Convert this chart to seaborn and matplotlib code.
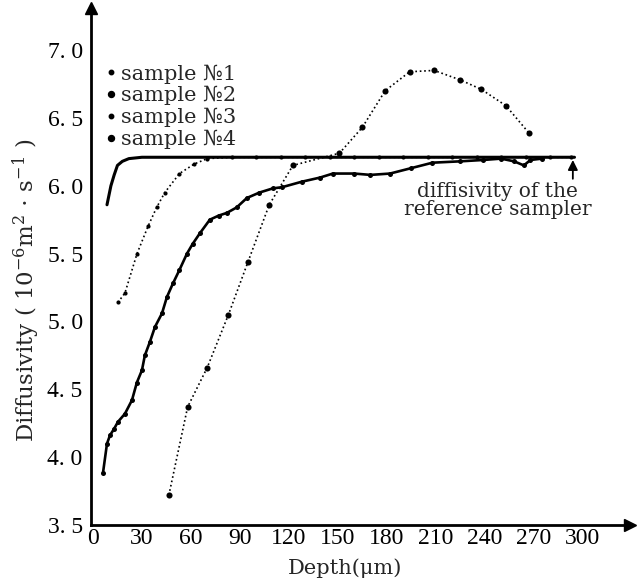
import matplotlib
matplotlib.use("Agg")
import matplotlib.pyplot as plt
import seaborn as sns
from matplotlib.lines import Line2D

# ---- data ----
s1_x = [8.6, 11, 13, 15, 18, 22, 30, 45, 60, 80, 100, 120, 140, 160, 180, 200, 220, 240, 260, 280, 295]
s1_y = [5.86, 6.00, 6.08, 6.15, 6.18, 6.20, 6.21, 6.21, 6.21, 6.21, 6.21, 6.21, 6.21, 6.21, 6.21, 6.21, 6.21, 6.21, 6.21, 6.21, 6.21]

s2_x = [6.1, 8.6, 10.4, 13, 15.3, 19.6, 23.9, 26.9, 30, 31.8, 34.9, 38, 42.3, 45.3, 49, 53, 57.6, 61,
        65.5, 71.6, 77, 82, 88, 94.3, 102, 110, 116, 128, 139, 147, 160, 170, 182, 195, 208, 225, 239,
        250, 258, 264, 268, 275]
s2_y = [3.88, 4.10, 4.16, 4.21, 4.26, 4.32, 4.42, 4.55, 4.64, 4.75, 4.85, 4.96, 5.06, 5.18, 5.28, 5.38,
        5.50, 5.57, 5.65, 5.75, 5.78, 5.80, 5.84, 5.91, 5.95, 5.98, 5.99, 6.03, 6.06, 6.09, 6.09, 6.08,
        6.09, 6.13, 6.17, 6.18, 6.19, 6.20, 6.18, 6.15, 6.19, 6.20]

s3_x = [15.3, 19.6, 27, 33.7, 39, 44, 53, 62, 70, 85, 100, 115, 130, 145, 160, 175, 190, 205, 220, 235, 250, 265, 280, 293]
s3_y = [5.14, 5.21, 5.50, 5.70, 5.84, 5.95, 6.09, 6.16, 6.20, 6.21, 6.21, 6.21, 6.21, 6.21, 6.21, 6.21, 6.21,
        6.21, 6.21, 6.21, 6.21, 6.21, 6.21, 6.21]

s4_x = [46.5, 58, 70, 83, 95, 108, 122.5, 151, 165, 179, 194, 209, 225, 238, 253, 267]
s4_y = [3.72, 4.37, 4.66, 5.05, 5.44, 5.86, 6.15, 6.24, 6.43, 6.70, 6.84, 6.85, 6.78, 6.71, 6.59, 6.39]

x_ticks = [0, 30, 60, 90, 120, 150, 180, 210, 240, 270, 300]
y_ticks = [3.5, 4.0, 4.5, 5.0, 5.5, 6.0, 6.5, 7.0]
y_tick_labels = ["3. 5", "4. 0", "4. 5", "5. 0", "5. 5", "6. 0", "6. 5", "7. 0"]
legend_labels = ["sample №1", "sample №2", "sample №3", "sample №4"]

# ---- style ----
sns.set_style("white")
plt.rcParams["font.family"] = ["Liberation Serif", "DejaVu Serif"]
plt.rcParams["mathtext.fontset"] = "custom"
plt.rcParams["mathtext.rm"] = "DejaVu Serif"
plt.rcParams["mathtext.it"] = "DejaVu Serif:italic"

wide = ["DejaVu Serif", "Liberation Serif"]

W, H = 638, 578
ax_l, ax_b, ax_w, ax_h = 91, 53, 539, 517

fig = plt.figure(figsize=(W / 100, H / 100), dpi=100)
ax = fig.add_axes([ax_l / W, ax_b / H, ax_w / W, ax_h / H])

sns.lineplot(x=s1_x, y=s1_y, ax=ax, color="black", linewidth=2.2, sort=False, estimator=None)
sns.lineplot(x=s3_x, y=s3_y, ax=ax, color="black", linewidth=1.2, linestyle=":", sort=False,
             estimator=None, marker="o", markersize=3.0, markeredgewidth=0)
sns.lineplot(x=s2_x, y=s2_y, ax=ax, color="black", linewidth=1.9, sort=False, estimator=None,
             marker="o", markersize=3.6, markeredgewidth=0)
sns.lineplot(x=s4_x, y=s4_y, ax=ax, color="black", linewidth=1.2, linestyle=":", sort=False,
             estimator=None, marker="o", markersize=4.4, markeredgewidth=0)

ax.set_xlim(-1.2, 329)
ax.set_ylim(3.5, 7.31)

for side in ["top", "right"]:
    ax.spines[side].set_visible(False)
for side in ["left", "bottom"]:
    ax.spines[side].set_color("black")
    ax.spines[side].set_linewidth(2.0)

# axis arrows
ax.plot(1, 0, marker=">", color="black", markersize=9, transform=ax.transAxes, clip_on=False)
ax.plot(0, 1, marker="^", color="black", markersize=9, transform=ax.transAxes, clip_on=False)

ax.set_xticks(x_ticks)
ax.set_xticklabels([str(v) for v in x_ticks])
ax.set_yticks(y_ticks)
ax.set_yticklabels(y_tick_labels)
ax.tick_params(axis="x", direction="in", length=6, width=1.5, labelsize=17, pad=2, colors="black")
ax.tick_params(axis="y", direction="out", length=5, width=1.5, labelsize=17, pad=1, colors="black")

ax.set_xlabel("Depth(μm)", fontsize=15, family=wide)
ax.xaxis.set_label_coords((345 - ax_l) / ax_w, -33 / ax_h)
ax.set_ylabel(r"Diffusivity ( 10$^{-6}$m$^{2}$ $\cdot$ s$^{-1}$ )", fontsize=16.5, family=wide)
ax.yaxis.set_label_coords(-(ax_l - 42) / ax_w, (525 - 290) / ax_h)

# legend
handles = [
    Line2D([], [], linestyle="none", marker="o", color="black", markersize=3.2),
    Line2D([], [], linestyle="none", marker="o", color="black", markersize=4.3),
    Line2D([], [], linestyle="none", marker="o", color="black", markersize=3.2),
    Line2D([], [], linestyle="none", marker="o", color="black", markersize=4.3),
]
ax.legend(handles, legend_labels, loc="upper left", bbox_to_anchor=(0.013, (525 - 56) / ax_h),
          frameon=False, prop={"family": wide, "size": 15}, handlelength=0.4,
          handletextpad=0.3, labelspacing=0.12, borderaxespad=0)

# annotation
ax.annotate("diffisivity of the\nreference sampler", xy=(294, 6.19), xytext=(248, 5.89),
            ha="center", va="center", fontsize=14.5, family=wide, linespacing=0.95,
            arrowprops=dict(arrowstyle="-|>", color="black", lw=1.3, shrinkA=0, shrinkB=0,
                            relpos=(0.9, 1.0)))

fig.savefig("out.png", dpi=100)
